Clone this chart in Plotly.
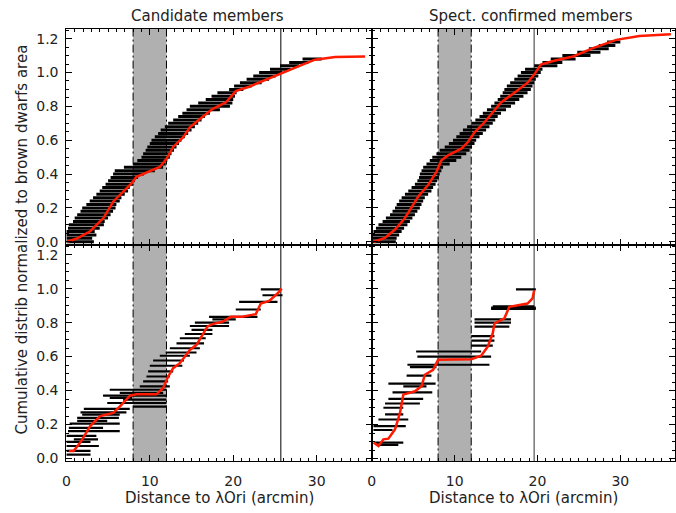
import plotly.graph_objects as go

# ---------------- data ----------------
# Cumulative distributions (red curves), distance in arcmin
cand_x = [0.07, 1.26, 2.86, 4.44, 5.63, 6.82, 7.81, 8.4, 9.2, 10.4, 11.2, 12.0, 12.8, 14.0,
          14.8, 16.0, 17.5, 19.1, 19.9, 20.3, 21.9, 23.5, 24.7, 25.7, 27.1, 28.3, 29.8, 32.2, 35.8]
cand_y = [0.0, 0.019, 0.062, 0.14, 0.238, 0.296, 0.345, 0.384, 0.40, 0.423, 0.442, 0.49, 0.56, 0.618,
          0.676, 0.725, 0.784, 0.823, 0.871, 0.89, 0.916, 0.949, 0.975, 0.994, 1.027, 1.047, 1.076, 1.092, 1.095]

spec_x = [0.2, 1.6, 2.8, 4.0, 5.6, 6.8, 7.8, 8.4, 9.2, 10.8, 11.6, 12.4, 13.6, 14.6, 15.6, 17.2,
          18.8, 19.6, 20.4, 22.0, 24.3, 26.7, 29.5, 32.3, 36.1]
spec_y = [0.0, 0.023, 0.072, 0.14, 0.267, 0.335, 0.413, 0.481, 0.51, 0.55, 0.589, 0.647, 0.706, 0.764,
          0.823, 0.881, 0.94, 0.988, 1.047, 1.07, 1.095, 1.144, 1.193, 1.216, 1.226]

cand_bd_x = [0.28, 0.87, 1.67, 2.86, 4.05, 5.63, 6.63, 7.62, 8.41, 10.8, 11.6, 12.2, 12.8, 13.6,
             14.8, 15.6, 16.3, 16.9, 17.5, 18.7, 19.7, 21.1, 22.7, 23.3, 24.3, 25.3, 25.8]
cand_bd_y = [0.045, 0.045, 0.094, 0.191, 0.25, 0.269, 0.318, 0.37, 0.378, 0.378, 0.415, 0.483, 0.532,
             0.561, 0.639, 0.669, 0.727, 0.776, 0.791, 0.805, 0.834, 0.834, 0.85, 0.912, 0.928, 0.971, 1.0]

spec_bd_x = [0.2, 0.8, 1.4, 2.0, 2.8, 3.4, 3.8, 5.2, 6.0, 6.4, 7.4, 8.0, 12.0, 13.2, 14.0, 14.6,
             14.8, 16.0, 16.6, 17.2, 18.8, 19.4, 19.6]
spec_bd_y = [0.094, 0.074, 0.113, 0.117, 0.172, 0.269, 0.376, 0.396, 0.425, 0.493, 0.522, 0.581,
             0.585, 0.605, 0.659, 0.737, 0.795, 0.825, 0.893, 0.897, 0.912, 0.942, 0.99]

# Distance uncertainty bars: level, lower and upper distance
cand_bar_y = [0.00, 0.02, 0.04, 0.06, 0.08, 0.10, 0.12, 0.14, 0.16, 0.18, 0.20, 0.22, 0.24, 0.26,
              0.28, 0.30, 0.32, 0.34, 0.36, 0.38, 0.40, 0.42, 0.44, 0.46, 0.48, 0.50, 0.52, 0.54,
              0.56, 0.58, 0.60, 0.62, 0.64, 0.66, 0.68, 0.70, 0.72, 0.74, 0.76, 0.78, 0.80, 0.82,
              0.84, 0.86, 0.88, 0.90, 0.92, 0.94, 0.96, 0.98, 1.00, 1.02, 1.04, 1.06, 1.08]
cand_bar_lo = [0.0, 0.0, 0.0, 0.0, 0.2, 0.3, 0.8, 1.0, 1.3, 1.7, 1.9, 2.4, 2.8, 3.2,
               3.6, 4.0, 4.3, 4.7, 5.0, 5.3, 5.6, 5.8, 6.9, 8.0, 8.5, 9.0, 9.2, 9.5,
               9.7, 10.0, 10.2, 10.6, 11.0, 11.3, 11.8, 12.2, 12.8, 13.4, 13.9, 14.4, 14.8, 15.8,
               16.7, 17.4, 18.1, 19.5, 20.1, 20.8, 21.6, 22.4, 23.1, 24.4, 25.6, 26.7, 28.3]
cand_bar_hi = [3.3, 3.1, 3.6, 3.4, 4.0, 4.5, 4.6, 5.0, 5.3, 5.6, 5.9, 6.0, 6.4, 6.6,
               7.0, 7.4, 7.6, 8.0, 8.2, 8.6, 9.3, 10.6, 11.6, 11.9, 12.1, 12.4, 12.6, 12.9,
               13.2, 13.5, 13.8, 14.2, 14.6, 15.0, 15.4, 15.8, 16.2, 16.6, 17.2, 18.4, 19.6, 19.9,
               20.0, 20.2, 20.4, 21.2, 22.2, 23.4, 24.3, 25.1, 25.9, 26.9, 27.9, 29.0, 30.6]

spec_bar_y = [0.00, 0.02, 0.04, 0.06, 0.08, 0.10, 0.12, 0.14, 0.16, 0.18, 0.20, 0.22, 0.24, 0.26,
              0.28, 0.30, 0.32, 0.34, 0.36, 0.38, 0.40, 0.42, 0.44, 0.46, 0.48, 0.50, 0.52, 0.54,
              0.56, 0.58, 0.60, 0.62, 0.64, 0.66, 0.68, 0.70, 0.72, 0.74, 0.76, 0.78, 0.80, 0.82,
              0.84, 0.86, 0.88, 0.90, 0.92, 0.94, 0.96, 0.98, 1.00, 1.02, 1.04, 1.06, 1.08, 1.10,
              1.12, 1.14, 1.16, 1.18]
spec_bar_lo = [0.0, 0.0, 0.0, 0.2, 0.5, 0.8, 1.3, 1.7, 2.2, 2.5, 2.8, 3.0, 3.3, 3.6,
               4.0, 4.4, 4.8, 5.2, 5.5, 5.7, 5.8, 6.0, 6.2, 6.6, 7.0, 7.3, 7.8, 8.2,
               8.8, 9.3, 9.8, 10.2, 10.6, 11.0, 11.5, 12.0, 12.5, 13.0, 13.4, 13.9, 14.4, 14.8,
               15.2, 15.5, 15.8, 16.0, 16.3, 16.7, 17.2, 17.6, 18.0, 18.5, 19.6, 20.6, 21.6, 23.0,
               24.8, 26.2, 27.4, 28.4]
spec_bar_hi = [2.9, 3.0, 3.3, 3.6, 3.9, 4.3, 4.6, 4.9, 5.2, 5.5, 5.8, 6.0, 6.2, 6.4,
               6.8, 7.2, 7.4, 7.7, 7.9, 8.1, 8.2, 8.4, 8.6, 9.4, 10.2, 10.8, 11.4, 11.8,
               12.1, 12.4, 12.6, 13.0, 13.4, 13.8, 14.2, 14.6, 14.9, 15.2, 15.6, 16.2, 16.8, 17.3,
               17.8, 18.3, 18.8, 19.2, 19.4, 19.6, 19.8, 20.1, 20.4, 20.6, 22.4, 23.0, 24.6, 26.4,
               27.6, 28.6, 29.4, 30.0]

cand_bd_bar_y = [0.023, 0.045, 0.074, 0.098, 0.113, 0.133, 0.162, 0.181, 0.205, 0.222, 0.240, 0.259,
                 0.272, 0.292, 0.306, 0.327, 0.347, 0.357, 0.370, 0.386, 0.405, 0.425, 0.454, 0.483,
                 0.513, 0.546, 0.577, 0.605, 0.624, 0.649, 0.678, 0.708, 0.733, 0.757, 0.780, 0.800,
                 0.819, 0.834, 0.877, 0.922, 0.961, 0.996]
cand_bd_bar_lo = [0.0, 0.0, 0.0, 0.0, 0.9, 0.0, 0.2, 0.3, 0.4, 1.3, 1.3, 1.9,
                  1.7, 2.1, 8.0, 4.9, 6.8, 5.2, 4.4, 6.4, 5.2, 8.8, 9.2, 9.6,
                  9.8, 10.0, 10.4, 11.2, 11.9, 12.4, 13.2, 13.6, 14.2, 15.0, 14.8, 15.4,
                  17.5, 17.1, 20.3, 20.7, 23.5, 23.3]
cand_bd_bar_hi = [2.9, 2.9, 3.9, 2.9, 3.8, 3.6, 6.4, 4.4, 6.4, 4.9, 6.3, 6.4,
                  7.2, 7.6, 12.0, 12.0, 12.0, 7.9, 12.0, 11.6, 12.0, 12.4, 12.2, 12.4,
                  12.8, 13.9, 14.1, 14.8, 15.6, 16.0, 16.5, 16.7, 17.5, 17.5, 19.5, 19.5,
                  20.3, 22.9, 23.3, 25.3, 25.9, 25.7]

spec_bd_bar_y = [0.080, 0.094, 0.168, 0.191, 0.230, 0.260, 0.299, 0.324, 0.351, 0.390, 0.425, 0.441,
                 0.488, 0.538, 0.552, 0.600, 0.630, 0.665, 0.694, 0.721, 0.776, 0.800, 0.819, 0.880,
                 0.888, 0.896, 0.996]
spec_bd_bar_lo = [0.6, 0.4, 0.2, 0.2, 0.8, 1.6, 1.4, 1.6, 2.0, 2.5, 3.8, 2.0,
                  4.2, 4.6, 4.3, 5.5, 5.35, 12.0, 12.0, 12.0, 12.4, 12.4, 12.4, 14.4,
                  14.4, 14.6, 17.4]
spec_bd_bar_hi = [3.2, 3.8, 2.5, 4.1, 4.4, 3.8, 3.8, 5.8, 6.2, 7.3, 6.6, 7.7,
                  7.2, 7.8, 14.2, 14.4, 13.2, 14.6, 14.8, 14.8, 16.6, 16.8, 16.8, 19.8,
                  19.8, 19.6, 19.8]

# Shaded annulus and outer radius of the brown-dwarf area (arcmin)
shade_lo, shade_hi = 8.0, 12.0
cand_radius = 25.7
spec_radius = 19.6

panel_titles = ["Candidate members", "Spect. confirmed members"]
x_title = "Distance to λOri (arcmin)"
y_title = "Cumulative distrib normalized to brown dwarfs area"

FONT = "DejaVu Sans"
TXT = "#222222"
RED = "#ff1a00"


def segments(ys, lo, hi):
    xs, yy = [], []
    for y, a, b in zip(ys, lo, hi):
        xs += [a, b, None]
        yy += [y, y, None]
    return xs, yy


fig = go.Figure()

panels = [
    # (axis suffix, bars, red curve, radius, bar width)
    ("", (cand_bar_y, cand_bar_lo, cand_bar_hi), (cand_x, cand_y), cand_radius, 3.0),
    ("2", (spec_bar_y, spec_bar_lo, spec_bar_hi), (spec_x, spec_y), spec_radius, 3.0),
    ("3", (cand_bd_bar_y, cand_bd_bar_lo, cand_bd_bar_hi), (cand_bd_x, cand_bd_y), cand_radius, 2.2),
    ("4", (spec_bd_bar_y, spec_bd_bar_lo, spec_bd_bar_hi), (spec_bd_x, spec_bd_y), spec_radius, 2.2),
]

for suf, bars, red, radius, bw in panels:
    bx, by = segments(*bars)
    fig.add_trace(go.Scatter(x=bx, y=by, mode="lines", line=dict(color="black", width=bw),
                             xaxis="x" + suf, yaxis="y" + suf, showlegend=False, hoverinfo="skip"))
    fig.add_trace(go.Scatter(x=red[0], y=red[1], mode="lines", line=dict(color=RED, width=2.5),
                             xaxis="x" + suf, yaxis="y" + suf, showlegend=False))
    xr = "x" + suf
    yr = "y" + suf + " domain"
    fig.add_shape(type="rect", xref=xr, yref=yr, x0=shade_lo, x1=shade_hi, y0=0, y1=1,
                  fillcolor="#b0b0b0", line=dict(width=0), layer="below")
    for xv in (shade_lo, shade_hi):
        fig.add_shape(type="line", xref=xr, yref=yr, x0=xv, x1=xv, y0=0, y1=1,
                      line=dict(color="black", width=1, dash="8px,3px,2px,3px"), layer="below")
    right = suf in ("2", "4")
    fig.add_shape(type="line", xref=xr, yref=yr, x0=radius, x1=radius, y0=0, y1=1,
                  line=dict(color="#777777" if right else "black", width=1.5 if right else 1),
                  layer="below")

W, H = 676, 513
xl = [62.7 / W, 370 / W]
xrgt = [370 / W, 675 / W]
yt = [1 - 247 / H, 1 - 29 / H]
yb = [1 - 466 / H, 1 - 247 / H]

tickfont = dict(family=FONT, size=14, color=TXT)


def xax(domain, anchor, labels):
    return dict(domain=domain, anchor=anchor, range=[0, 36.6], showline=True, linecolor="black",
                linewidth=1, mirror="allticks", ticks="inside", ticklen=6, tickcolor="black",
                dtick=10, tick0=0, showticklabels=labels, tickfont=tickfont, showgrid=False,
                zeroline=False, ticklabelstandoff=7,
                minor=dict(ticks="inside", ticklen=3, dtick=1, tickcolor="black", showgrid=False))


def yax(domain, anchor, labels):
    return dict(domain=domain, anchor=anchor, range=[-0.017, 1.259], showline=True,
                linecolor="black", linewidth=1, mirror="allticks", ticks="inside", ticklen=6,
                tickcolor="black", dtick=0.2, tick0=0, tickformat=".1f", showticklabels=labels,
                tickfont=tickfont, showgrid=False, zeroline=False, ticklabelstandoff=4,
                minor=dict(ticks="inside", ticklen=3, dtick=0.05, tickcolor="black", showgrid=False))


fig.update_layout(
    width=W, height=H, margin=dict(l=0, r=0, t=0, b=0),
    paper_bgcolor="white", plot_bgcolor="white", showlegend=False,
    xaxis=xax(xl, "y", False), yaxis=yax(yt, "x", True),
    xaxis2=xax(xrgt, "y2", False), yaxis2=yax(yt, "x2", False),
    xaxis3=xax(xl, "y3", True), yaxis3=yax(yb, "x3", True),
    xaxis4=xax(xrgt, "y4", True), yaxis4=yax(yb, "x4", False),
)

ann_font = dict(family=FONT, size=15, color=TXT)
common = dict(xref="paper", yref="paper", showarrow=False, font=ann_font,
              xanchor="center", yanchor="middle")
fig.add_annotation(text=panel_titles[0], x=205 / W, y=1 - 16 / H, **common)
fig.add_annotation(text=panel_titles[1], x=530 / W, y=1 - 16 / H, **common)
fig.add_annotation(text=x_title, x=(xl[0] + xl[1]) / 2, y=1 - 503 / H, **common)
fig.add_annotation(text=x_title, x=(xrgt[0] + xrgt[1]) / 2, y=1 - 503 / H, **common)
fig.add_annotation(text=y_title, x=18 / W, y=1 - 242 / H, textangle=-90, **common)

fig.write_html("out.html")
